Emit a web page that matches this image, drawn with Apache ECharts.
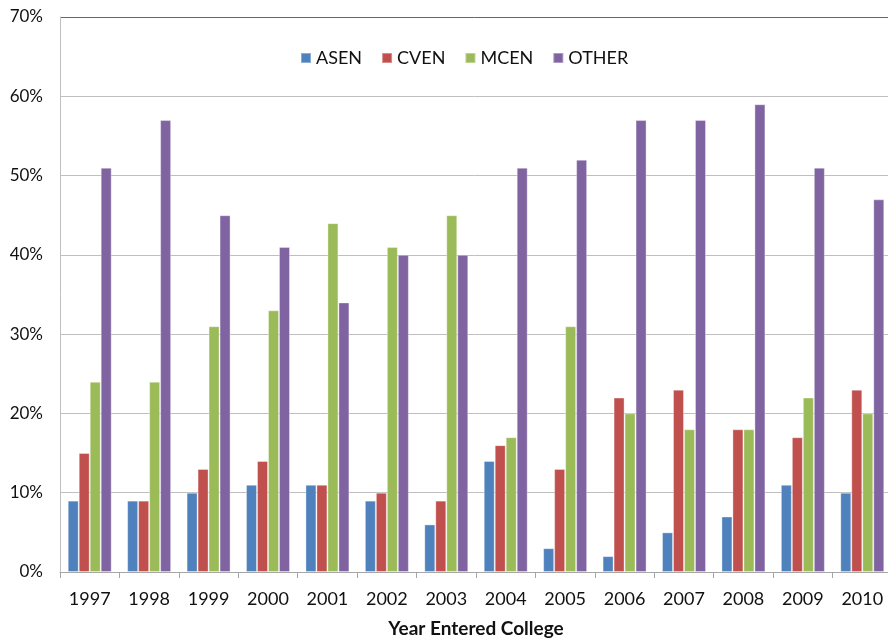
<!DOCTYPE html>
<html>
<head>
<meta charset="utf-8">
<script src="https://cdn.jsdelivr.net/npm/echarts@6/dist/echarts.min.js"></script>
<style>
  html, body { margin: 0; padding: 0; background: #ffffff; }
  #chart { width: 888px; height: 641px; }
</style>
</head>
<body>
<div id="chart"></div>
<script>
// Share of students by department, per entering year (percent)
const years = ['1997', '1998', '1999', '2000', '2001', '2002', '2003',
               '2004', '2005', '2006', '2007', '2008', '2009', '2010'];
const asen  = [9, 9, 10, 11, 11, 9, 6, 14, 3, 2, 5, 7, 11, 10];
const cven  = [15, 9, 13, 14, 11, 10, 9, 16, 13, 22, 23, 18, 17, 23];
const mcen  = [24, 24, 31, 33, 44, 41, 45, 17, 31, 20, 18, 18, 22, 20];
const other = [51, 57, 45, 41, 34, 40, 40, 51, 52, 57, 57, 59, 51, 47];

const seriesNames = ['ASEN', 'CVEN', 'MCEN', 'OTHER'];
const seriesData = [asen, cven, mcen, other];
const colors = ['#4F81BD', '#C0504D', '#9BBB59', '#8064A2'];

const FONT = 'Lato, "Open Sans", sans-serif';
const chart = echarts.init(document.getElementById('chart'), null, { renderer: 'canvas' });

chart.setOption({
  animation: false,
  color: colors,
  textStyle: { fontFamily: FONT },
  grid: {
    left: 60, right: -4, top: 17, bottom: 69,
    containLabel: false,
    outerBoundsMode: 'none'
  },
  legend: {
    top: 44,
    left: 295,
    itemWidth: 10,
    itemHeight: 10,
    itemGap: 19,
    icon: 'rect',
    textStyle: { fontFamily: FONT, fontSize: 18, color: '#111111' },
    data: seriesNames
  },
  xAxis: {
    type: 'category',
    data: years,
    boundaryGap: true,
    name: 'Year Entered College',
    nameLocation: 'middle',
    nameGap: 47,
    nameTextStyle: { fontFamily: FONT, fontSize: 19, fontWeight: 'bold', color: '#111111' },
    axisLine: { lineStyle: { color: '#a6a6a6', width: 1 } },
    axisTick: { show: true, alignWithLabel: false, length: 6, lineStyle: { color: '#a6a6a6' } },
    axisLabel: { fontFamily: FONT, fontSize: 18, color: '#111111', margin: 18 },
    splitLine: { show: false }
  },
  yAxis: {
    type: 'value',
    min: 0,
    max: 70,
    interval: 10,
    axisLine: { show: true, lineStyle: { color: '#bfbfbf', width: 1 } },
    axisTick: { show: false },
    axisLabel: {
      fontFamily: FONT, fontSize: 17, color: '#111111', margin: 17,
      formatter: v => v + '%'
    },
    splitLine: {
      show: true,
      lineStyle: {
        color: ['#bfbfbf', '#bfbfbf', '#bfbfbf', '#bfbfbf', '#bfbfbf', '#bfbfbf', '#bfbfbf', '#666666'],
        width: 1
      }
    }
  },
  series: seriesNames.map((name, i) => ({
    name: name,
    type: 'bar',
    data: seriesData[i],
    barGap: '0%',
    barCategoryGap: '26%',
    itemStyle: { color: colors[i], borderColor: 'rgba(255,255,255,0.35)', borderWidth: 1 }
  }))
});
</script>
</body>
</html>
